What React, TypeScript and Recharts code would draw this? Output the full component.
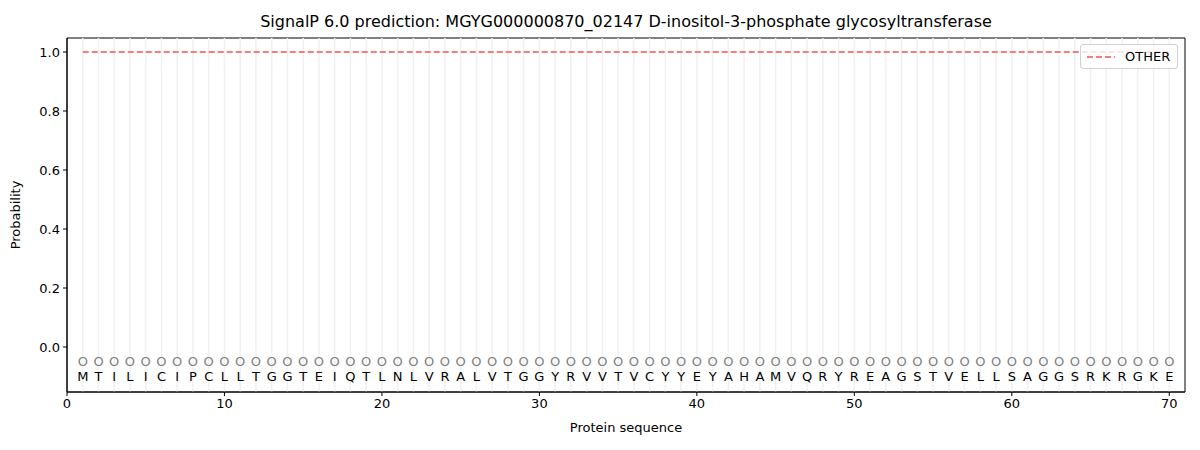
import React from "react";
import {
  ComposedChart,
  Line,
  Scatter,
  XAxis,
  YAxis,
  ReferenceLine,
  ReferenceArea,
  Label,
} from "recharts";

const sequence = "MTILICIPCLLTGGTEIQTLNLVRALVTGGYRVVTVCYYEYAHAMVQRYREAGSTVELLSAGGSRKRGKE".split("");

const otherProb = [
  1, 1, 1, 1, 1, 1, 1, 1, 1, 1, 1, 1, 1, 1, 1, 1, 1, 1, 1, 1,
  1, 1, 1, 1, 1, 1, 1, 1, 1, 1, 1, 1, 1, 1, 1, 1, 1, 1, 1, 1,
  1, 1, 1, 1, 1, 1, 1, 1, 1, 1, 1, 1, 1, 1, 1, 1, 1, 1, 1, 1,
  1, 1, 1, 1, 1, 1, 1, 1, 1, 1,
];

const predLabels = sequence.map(() => "O");
const xTicks = [0, 10, 20, 30, 40, 50, 60, 70];
const yTicks = [0, 0.2, 0.4, 0.6, 0.8, 1.0];
const X_DOMAIN: [number, number] = [0, 71];
const Y_DOMAIN: [number, number] = [-0.1525, 1.0475];

const MARK_Y = -0.05;
const LETTER_Y = -0.1;

const rows = sequence.map((aa, i) => ({
  pos: i + 1,
  aa,
  pred: predLabels[i],
  other: otherProb[i],
  markY: MARK_Y,
  letterY: LETTER_Y,
}));

const FONT = "'DejaVu Sans', sans-serif";
const W = 1200;
const H = 450;

const MarkShape = (props: any) => (
  <text
    x={props.cx}
    y={props.cy}
    textAnchor="middle"
    dominantBaseline="central"
    fontSize={13}
    fontFamily={FONT}
    fill="#808080"
  >
    {props.payload.pred}
  </text>
);

const LetterShape = (props: any) => (
  <text
    x={props.cx}
    y={props.cy}
    textAnchor="middle"
    dominantBaseline="central"
    fontSize={13}
    fontFamily={FONT}
    fill="#000"
  >
    {props.payload.aa}
  </text>
);

export default function App() {
  return (
    <div style={{ position: "absolute", left: 0, top: 0, width: W, height: H, background: "#fff", fontFamily: FONT }}>
      <div
        style={{
          position: "absolute",
          left: 67,
          width: 1118,
          top: 12,
          textAlign: "center",
          fontSize: 16,
          color: "#000",
        }}
      >
        SignalP 6.0 prediction: MGYG000000870_02147 D-inositol-3-phosphate glycosyltransferase
      </div>
      <ComposedChart
        width={W}
        height={H}
        data={rows}
        margin={{ top: 38, right: 15, bottom: 0, left: 0 }}
      >
        {rows.map((r) => (
          <ReferenceLine key={r.pos} x={r.pos} stroke="#f0f0f0" strokeWidth={1.5} />
        ))}
        <XAxis
          dataKey="pos"
          type="number"
          domain={X_DOMAIN}
          ticks={xTicks}
          allowDataOverflow
          height={58}
          stroke="#000"
          tickSize={4}
          tickMargin={3}
          tick={{ fill: "#000", fontSize: 13, fontFamily: FONT }}
        >
          <Label value="Protein sequence" position="insideBottom" offset={18} fill="#000" fontSize={13} fontFamily={FONT} />
        </XAxis>
        <YAxis
          type="number"
          domain={Y_DOMAIN}
          ticks={yTicks}
          allowDataOverflow
          width={67}
          stroke="#000"
          tickSize={4}
          tickMargin={3}
          tickFormatter={(v: number) => v.toFixed(1)}
          tick={{ fill: "#000", fontSize: 13, fontFamily: FONT }}
        >
          <Label value="Probability" angle={-90} position="insideLeft" offset={15} fill="#000" fontSize={13} fontFamily={FONT} style={{ textAnchor: "middle" }} />
        </YAxis>
        <ReferenceArea
          x1={X_DOMAIN[0]}
          x2={X_DOMAIN[1]}
          y1={Y_DOMAIN[0]}
          y2={Y_DOMAIN[1]}
          fill="none"
          fillOpacity={0}
          stroke="#000"
          strokeWidth={1}
          ifOverflow="visible"
        />
        <Line
          dataKey="other"
          name="OTHER"
          stroke="#f47e7e"
          strokeWidth={2}
          strokeDasharray="6 3"
          dot={false}
          isAnimationActive={false}
        />
        <Scatter data={rows} dataKey="markY" shape={MarkShape} isAnimationActive={false} />
        <Scatter data={rows} dataKey="letterY" shape={LetterShape} isAnimationActive={false} />
      </ComposedChart>
      <div
        style={{
          position: "absolute",
          left: 1080,
          top: 44,
          width: 96,
          height: 23,
          border: "1px solid #d0d0d0",
          borderRadius: 3,
          background: "rgba(255,255,255,0.8)",
          display: "flex",
          alignItems: "center",
          fontSize: 13,
          color: "#000",
        }}
      >
        <svg width={36} height={10} style={{ marginLeft: 4 }}>
          <line x1={2} y1={5} x2={30} y2={5} stroke="#f47e7e" strokeWidth={2} strokeDasharray="6 3" />
        </svg>
        <span style={{ marginLeft: 4 }}>OTHER</span>
      </div>
    </div>
  );
}
